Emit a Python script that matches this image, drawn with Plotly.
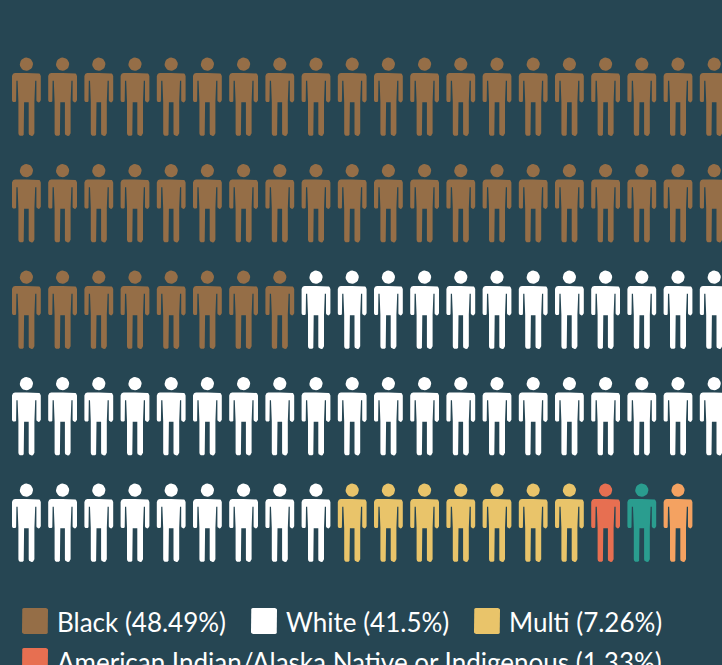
import math
import plotly.graph_objects as go

# Data
categories = ["Black", "White", "Multi", "American Indian/Alaska Native or Indigenous", "Teal group", "Orange group"]
people_counts = [48, 41, 7, 1, 1, 1]
colors = ["#956E47", "#FFFFFF", "#E9C46A", "#E76F51", "#2A9D8F", "#F4A261"]
legend_labels = ["Black (48.49%)", "White (41.5%)", "Multi (7.26%)",
                 "American Indian/Alaska Native or Indigenous (1.33%)"]
legend_rows = [0, 0, 0, 1]
legend_swatch_x = [22, 251, 474, 22]
per_row = 20

BG = "#264653"
X0, DX = 26.4, 36.2
Y0, DY = 64.2, 106.5
LEG_Y0, LEG_DY = 622, 40
W, H = 722, 665


def arc(cx, cy, r, a0, a1, n=6):
    return [(cx + r * math.cos(math.radians(a0 + (a1 - a0) * i / n)),
             cy + r * math.sin(math.radians(a0 + (a1 - a0) * i / n))) for i in range(n + 1)]


def person_outline():
    """Silhouette around (0,0) = head centre, pixels, y downwards."""
    hw = 14.4   # half shoulder span
    top = 8.8
    arm = 4.4
    pit = 16.6
    pts = [(0, top)]
    pts += arc(hw - 3, top + 3, 3, -90, 0)
    pts += arc(hw - arm / 2, 36, arm / 2, 0, 180)        # right arm end
    pts += [(hw - arm, pit), (8.8, pit), (8.0, 38)]
    pts += arc(5.15, 69, 2.85, 0, 180)                   # right leg end
    pts += [(2.3, 38), (-2.3, 38)]
    pts += arc(-5.15, 69, 2.85, 0, 180)                  # left leg end
    pts += [(-8.0, 38), (-8.8, pit), (-hw + arm, pit)]
    pts += arc(-hw + arm / 2, 36, arm / 2, 0, 180)       # left arm end
    pts += arc(-hw + 3, top + 3, 3, 180, 270)
    pts += [(0, top)]
    return pts


def head_outline(r=6.6):
    return arc(0, 0, r, 0, 360, 24)


def rounded_box(x, y, size=26, r=2):
    return (arc(x + size - r, y + r, r, -90, 0, 3) + arc(x + size - r, y + size - r, r, 0, 90, 3)
            + arc(x + r, y + size - r, r, 90, 180, 3) + arc(x + r, y + r, r, 180, 270, 3)
            + [(x + size - r, y)])


BODY = person_outline()
HEAD = head_outline()

fig = go.Figure()
idx = 0
for name, count, color in zip(categories, people_counts, colors):
    xs, ys = [], []
    for _ in range(count):
        row, col = divmod(idx, per_row)
        cx, cy = X0 + col * DX, Y0 + row * DY
        for outline in (BODY, HEAD):
            xs += [cx + p[0] for p in outline] + [None]
            ys += [cy + p[1] for p in outline] + [None]
        idx += 1
    fig.add_trace(go.Scatter(x=xs, y=ys, mode="lines", fill="toself", fillcolor=color,
                             line=dict(width=0, color=color), name=name,
                             hoverinfo="name", showlegend=False))

for label, row, sx, color in zip(legend_labels, legend_rows, legend_swatch_x, colors):
    yc = LEG_Y0 + row * LEG_DY
    box = rounded_box(sx, yc - 14)
    fig.add_trace(go.Scatter(x=[p[0] for p in box], y=[p[1] for p in box], mode="lines",
                             fill="toself", fillcolor=color, line=dict(width=0, color=color),
                             hoverinfo="skip", showlegend=False))
    fig.add_annotation(x=sx + 33, y=yc, text=label, showarrow=False, xanchor="left", yanchor="middle",
                       font=dict(family="Lato", size=26, color="#FFFFFF"))

fig.update_layout(
    width=W, height=H, margin=dict(l=0, r=0, t=0, b=0),
    paper_bgcolor=BG, plot_bgcolor=BG,
    xaxis=dict(range=[0, W], visible=False, fixedrange=True),
    yaxis=dict(range=[H, 0], visible=False, fixedrange=True),
)
fig.write_html("out.html", config={"displayModeBar": False},
               post_script="document.body.style.margin='0';document.body.style.overflow='hidden';"
                           "document.body.style.background='%s';" % BG)
